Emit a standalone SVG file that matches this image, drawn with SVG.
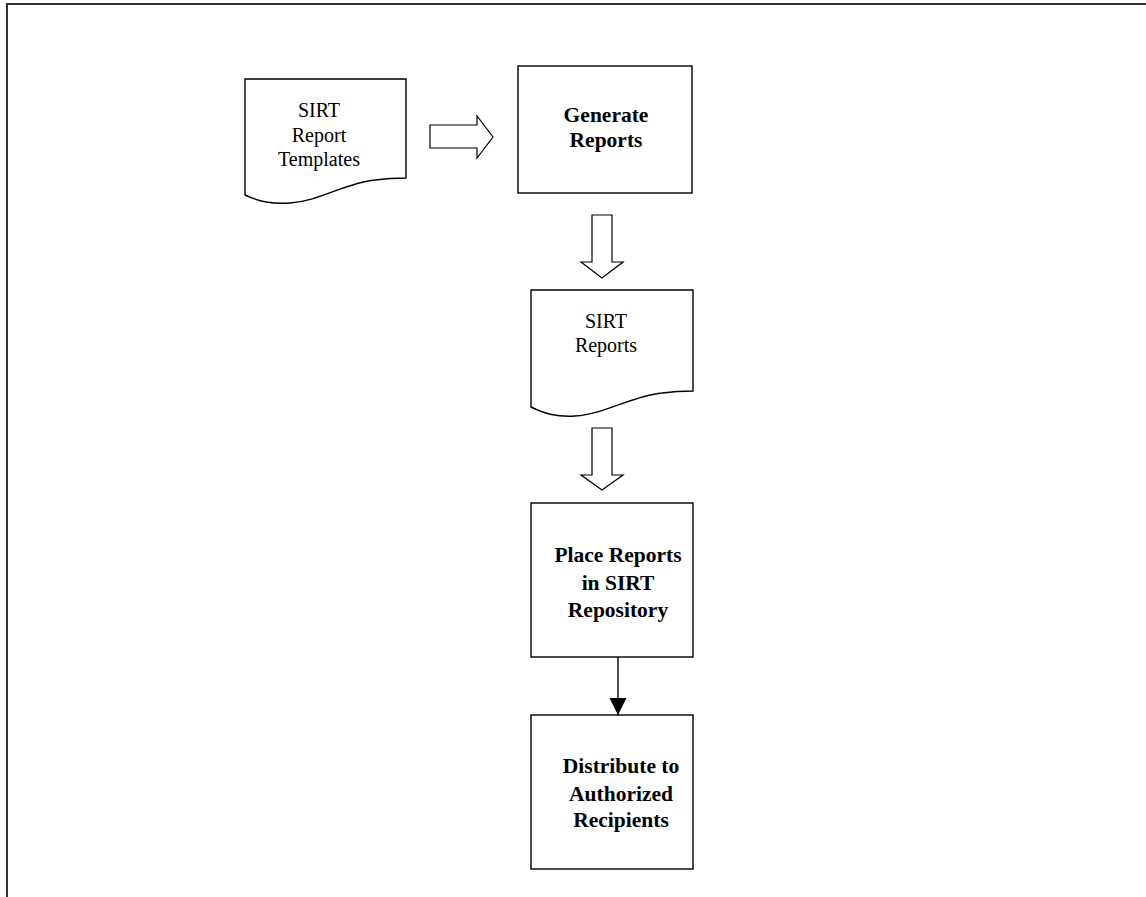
<svg xmlns="http://www.w3.org/2000/svg" width="1146" height="897" viewBox="0 0 1146 897">
  <style>
    .shape { fill: #ffffff; stroke: #000000; stroke-width: 1.4; }
    .block { fill: #ffffff; stroke: #000000; stroke-width: 1.2; stroke-linejoin: miter; }
    .frame { fill: none; stroke: #333333; stroke-width: 2; }
    .doc { font-family: "Liberation Serif", "Times New Roman", serif; font-size: 20px; fill: #000000; text-anchor: middle; }
    .proc { font-family: "Liberation Serif", "Times New Roman", serif; font-size: 21.5px; font-weight: bold; fill: #000000; text-anchor: middle; }
    .link { stroke: #000000; stroke-width: 1.4; fill: none; }
  </style>
  <defs>
    <marker id="head" markerUnits="userSpaceOnUse" markerWidth="18" markerHeight="18" refX="17" refY="8.5" orient="auto">
      <path d="M0,0 L17,8.5 L0,17 Z" fill="#000000"/>
    </marker>
  </defs>

  <rect width="1146" height="897" fill="#ffffff"/>

  <!-- page frame -->
  <path class="frame" d="M7,897 V4 H1146"/>

  <!-- document: SIRT Report Templates -->
  <g id="doc-templates">
    <path class="shape" d="M245,79 H406 V178 C400,178 390,178 375,180 C345,183 320,201 290,203 C272,204 260,202 245,195 Z"/>
    <text class="doc" x="319" y="117">SIRT</text>
    <text class="doc" x="319" y="142">Report</text>
    <text class="doc" x="319" y="166">Templates</text>
  </g>

  <!-- process: Generate Reports -->
  <g id="proc-generate">
    <rect class="shape" x="518" y="66" width="174" height="127"/>
    <text class="proc" x="606" y="122">Generate</text>
    <text class="proc" x="606" y="147">Reports</text>
  </g>

  <!-- document: SIRT Reports -->
  <g id="doc-reports">
    <path class="shape" d="M531,290 H693 V391 C687,391 677,391 662,393 C632,396 605,414 575,416 C557,417 545,414 531,407 Z"/>
    <text class="doc" x="606" y="328">SIRT</text>
    <text class="doc" x="606" y="352">Reports</text>
  </g>

  <!-- process: Place Reports in SIRT Repository -->
  <g id="proc-place">
    <rect class="shape" x="531" y="503" width="162" height="154"/>
    <text class="proc" x="618" y="562">Place Reports</text>
    <text class="proc" x="618" y="590">in SIRT</text>
    <text class="proc" x="618" y="617">Repository</text>
  </g>

  <!-- process: Distribute to Authorized Recipients -->
  <g id="proc-distribute">
    <rect class="shape" x="531" y="715" width="162" height="154"/>
    <text class="proc" x="621" y="773">Distribute to</text>
    <text class="proc" x="621" y="801">Authorized</text>
    <text class="proc" x="621" y="827">Recipients</text>
  </g>

  <!-- connectors -->
  <g id="connectors">
    <!-- block arrow: templates to generate -->
    <path class="block" d="M430,125 H477 V116 L493,137 L477,158 V148 H430 Z"/>
    <!-- block arrow: generate to reports -->
    <path class="block" d="M592,215 H612 V262 H623 L602,278 L581,262 H592 Z"/>
    <!-- block arrow: reports to place -->
    <path class="block" d="M592,428 H612 V475 H623 L602,490 L581,475 H592 Z"/>
    <!-- place to distribute -->
    <line class="link" x1="618" y1="657" x2="618" y2="715" marker-end="url(#head)"/>
  </g>
</svg>
